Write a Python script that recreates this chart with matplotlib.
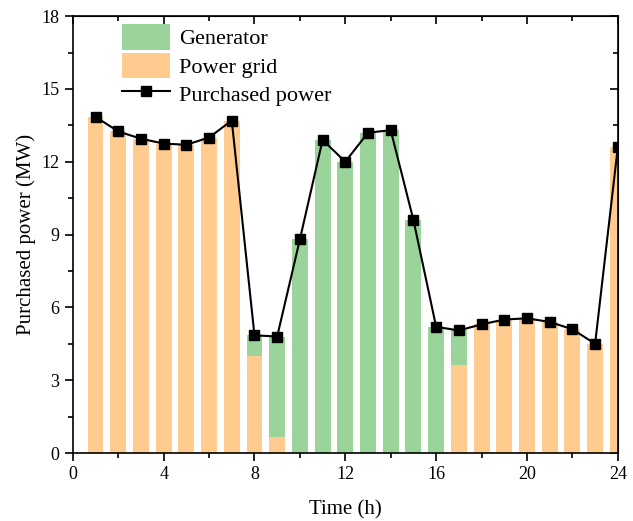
import numpy as np
import matplotlib.pyplot as plt
from matplotlib.ticker import MultipleLocator

plt.rcParams['font.family'] = ['Liberation Serif', 'DejaVu Serif']

hours = np.arange(1, 25)
purchased = [13.85, 13.25, 12.95, 12.75, 12.7, 13.0, 13.7, 4.85, 4.8, 8.8,
             12.9, 12.0, 13.2, 13.3, 9.6, 5.2, 5.05, 5.3, 5.5, 5.55,
             5.4, 5.1, 4.5, 12.6]
grid = [13.85, 13.25, 12.95, 12.75, 12.7, 13.0, 13.7, 4.0, 0.65, 0.0,
        0.0, 0.0, 0.0, 0.0, 0.0, 0.0, 3.62, 5.3, 5.5, 5.55,
        5.4, 5.1, 4.5, 12.6]
generator = np.array(purchased) - np.array(grid)

fig = plt.figure(figsize=(6.33, 5.21), dpi=100)
ax = fig.add_axes([0.115, 0.1305, 0.861, 0.8385])

b_grid = ax.bar(hours, grid, width=0.7, color='#FFCB8E')
b_gen = ax.bar(hours, generator, bottom=grid, width=0.7, color='#9AD49A')
ln, = ax.plot(hours, purchased, color='black', lw=1.5, marker='s', ms=7)

ax.set_xlim(0, 24)
ax.set_ylim(0, 18)
ax.xaxis.set_major_locator(MultipleLocator(4))
ax.xaxis.set_minor_locator(MultipleLocator(2))
ax.yaxis.set_major_locator(MultipleLocator(3))
ax.yaxis.set_minor_locator(MultipleLocator(1.5))
ax.tick_params(which='both', direction='out', labelsize=13, width=1.2)
ax.tick_params(which='major', length=6)
ax.tick_params(which='minor', length=3.5)
for s in ax.spines.values():
    s.set_linewidth(1.2)

# mirrored ticks on top/right, pointing inwards
top = ax.secondary_xaxis('top')
top.xaxis.set_major_locator(MultipleLocator(4))
top.xaxis.set_minor_locator(MultipleLocator(2))
top.tick_params(which='both', direction='in', labeltop=False, width=1.2)
top.tick_params(which='major', length=6)
top.tick_params(which='minor', length=3.5)
right = ax.secondary_yaxis('right')
right.yaxis.set_major_locator(MultipleLocator(3))
right.yaxis.set_minor_locator(MultipleLocator(1.5))
right.tick_params(which='both', direction='in', labelright=False, width=1.2)
right.tick_params(which='major', length=6)
right.tick_params(which='minor', length=3.5)

ax.set_xlabel('Time (h)', fontsize=15, labelpad=12)
ax.set_ylabel('Purchased power (MW)', fontsize=15, labelpad=4)

ax.legend([b_gen, b_grid, ln], ['Generator', 'Power grid', 'Purchased power'],
          loc='upper left', bbox_to_anchor=(0.065, 1.012), frameon=False,
          fontsize=16, handlelength=2.2, handleheight=1.4, handletextpad=0.4,
          labelspacing=0.12, borderaxespad=0.2)

fig.savefig('out.png', dpi=100)
